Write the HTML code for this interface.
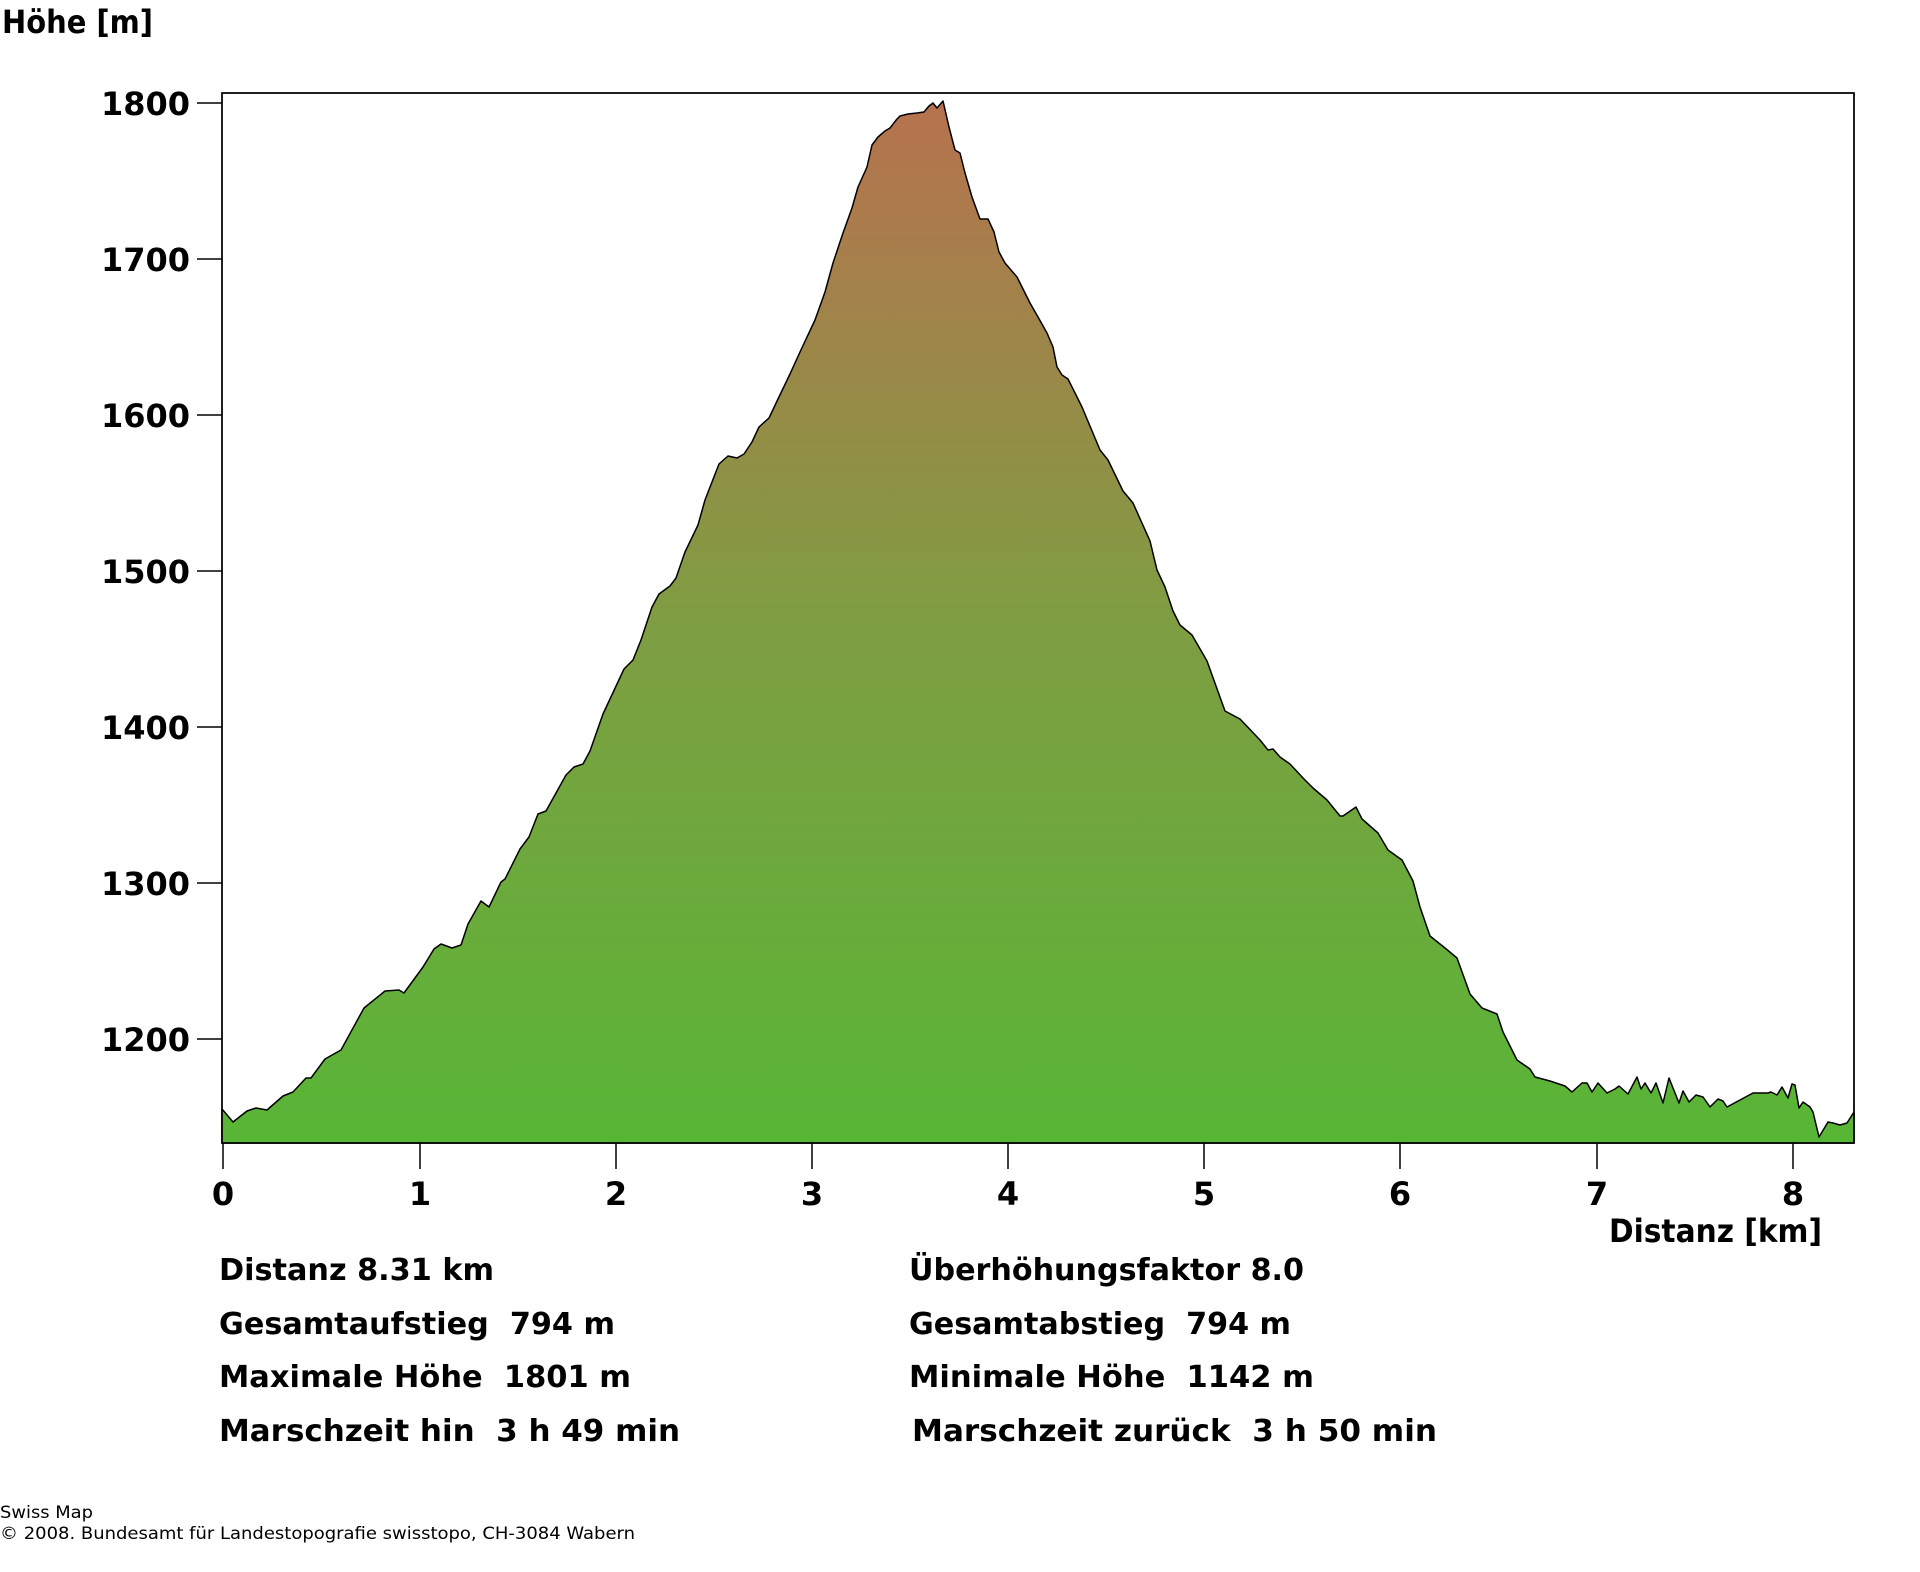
<!DOCTYPE html>
<html><head><meta charset="utf-8"><style>
html,body{margin:0;padding:0;background:#fff;}
svg{display:block;}
text{font-family:"DejaVu Sans","Liberation Sans",sans-serif;font-weight:bold;fill:#000;white-space:pre;}
.s{font-weight:normal;font-size:17px;}
</style></head><body>
<svg width="1920" height="1572" viewBox="0 0 1920 1572" xmlns="http://www.w3.org/2000/svg">
<defs>
<linearGradient id="g" x1="0" y1="93" x2="0" y2="1143" gradientUnits="userSpaceOnUse">
<stop offset="0" stop-color="#b8714f"/>
<stop offset="0.5" stop-color="#7f9d42"/>
<stop offset="1" stop-color="#58b636"/>
</linearGradient>
</defs>
<rect x="222" y="93" width="1632" height="1050" fill="#fff" stroke="#000" stroke-width="1.5"/>
<polygon fill="url(#g)" stroke="#000" stroke-width="1.5" stroke-linejoin="round" points="
222,1143 222,1109 233,1122 247,1111 256,1108 267,1110 283,1096 293,1092 306,1078 311,1078 325,1059 341,1050 364,1008 385,991 399,990 404,993 423,967 434,949 441,944 452,948 461,945 468,924 481,901 489,907 501,882 505,879 520,849 529,837 538,814 546,811 566,775 574,767 583,764 590,751 603,714 610,699 624,669 633,660 641,640 652,607 659,594 670,586 676,578 685,552 698,525 705,500
719,464 728,456 737,458 744,454 752,442 759,427 769,418 778,399 790,374 800,352 815,320 825,292 833,263 843,233 852,208 858,187 867,167 872,145 878,137 885,131 890,128 897,119 900,116 908,114 917,113 924,112 929,106 933,103 937,108 943,101 949,127 955,150 960,153 965,173 972,197 980,219 988,219 994,232 999,252 1005,263 1017,277 1022,287 1030,303 1038,317 1047,333 1053,347 1057,367 1062,375 1068,379
1082,407 1100,450 1108,460 1123,491 1133,503 1150,541 1157,570 1165,587 1173,611 1180,625 1192,635 1207,661 1225,711 1240,719 1260,740 1268,750 1273,749 1280,757 1290,764 1303,778 1313,788 1327,800 1340,816 1343,816 1356,807 1362,819 1378,833 1388,850 1402,860 1413,881 1420,907 1430,936 1445,948 1457,958 1470,994 1482,1008 1497,1014 1503,1032 1517,1060 1530,1069 1535,1077 1550,1081
1565,1086 1572,1092 1582,1083 1587,1083 1592,1092 1598,1083 1607,1093 1615,1089 1619,1086 1628,1094 1637,1077 1641,1089 1645,1083 1651,1093 1656,1083 1663,1103 1669,1078 1679,1103 1683,1091 1689,1102 1696,1095 1703,1097 1710,1107 1718,1099 1723,1101 1727,1107 1753,1093 1768,1093 1771,1092 1777,1095 1782,1087 1788,1098 1792,1084 1795,1085 1799,1108 1803,1102 1810,1107 1813,1112 1819,1137 1828,1122 1833,1123 1840,1125 1847,1123 1854,1112 1854,1143"/>
<rect x="222" y="93" width="1632" height="1050" fill="none" stroke="#000" stroke-width="1.5"/>
<g stroke="#000" stroke-width="1.5">
<line x1="197" y1="103" x2="222" y2="103"/><line x1="197" y1="259" x2="222" y2="259"/><line x1="197" y1="415" x2="222" y2="415"/><line x1="197" y1="571" x2="222" y2="571"/><line x1="197" y1="727" x2="222" y2="727"/><line x1="197" y1="883" x2="222" y2="883"/><line x1="197" y1="1039" x2="222" y2="1039"/>
<line x1="223" y1="1143" x2="223" y2="1169"/><line x1="420" y1="1143" x2="420" y2="1169"/><line x1="616" y1="1143" x2="616" y2="1169"/><line x1="812" y1="1143" x2="812" y2="1169"/><line x1="1008" y1="1143" x2="1008" y2="1169"/><line x1="1204" y1="1143" x2="1204" y2="1169"/><line x1="1400" y1="1143" x2="1400" y2="1169"/><line x1="1597" y1="1143" x2="1597" y2="1169"/><line x1="1793" y1="1143" x2="1793" y2="1169"/>
</g>
<text x="2" y="33" font-size="32" textLength="151" lengthAdjust="spacingAndGlyphs">Höhe [m]</text>
<g font-size="32" text-anchor="end">
<text x="190" y="115">1800</text><text x="190" y="271">1700</text><text x="190" y="427">1600</text><text x="190" y="583">1500</text><text x="190" y="739">1400</text><text x="190" y="895">1300</text><text x="190" y="1051">1200</text>
</g>
<g font-size="32" text-anchor="middle">
<text x="223" y="1205">0</text><text x="420" y="1205">1</text><text x="616" y="1205">2</text><text x="812" y="1205">3</text><text x="1008" y="1205">4</text><text x="1204" y="1205">5</text><text x="1400" y="1205">6</text><text x="1597" y="1205">7</text><text x="1793" y="1205">8</text>
</g>
<text x="1609" y="1242" font-size="32" textLength="213" lengthAdjust="spacingAndGlyphs">Distanz [km]</text>
<g font-size="30">
<text x="219" y="1280" textLength="275" lengthAdjust="spacingAndGlyphs">Distanz 8.31 km</text>
<text x="219" y="1334" textLength="396" lengthAdjust="spacingAndGlyphs">Gesamtaufstieg  794 m</text>
<text x="219" y="1387" textLength="412" lengthAdjust="spacingAndGlyphs">Maximale Höhe  1801 m</text>
<text x="219" y="1441" textLength="461" lengthAdjust="spacingAndGlyphs">Marschzeit hin  3 h 49 min</text>
<text x="909" y="1280" textLength="395" lengthAdjust="spacingAndGlyphs">Überhöhungsfaktor 8.0</text>
<text x="909" y="1334" textLength="382" lengthAdjust="spacingAndGlyphs">Gesamtabstieg  794 m</text>
<text x="909" y="1387" textLength="405" lengthAdjust="spacingAndGlyphs">Minimale Höhe  1142 m</text>
<text x="912" y="1441" textLength="525" lengthAdjust="spacingAndGlyphs">Marschzeit zurück  3 h 50 min</text>
</g>
<text class="s" x="0" y="1518" textLength="93" lengthAdjust="spacingAndGlyphs">Swiss Map</text>
<text class="s" x="0" y="1539" textLength="635" lengthAdjust="spacingAndGlyphs">© 2008. Bundesamt für Landestopografie swisstopo, CH-3084 Wabern</text>
</svg>
</body></html>
